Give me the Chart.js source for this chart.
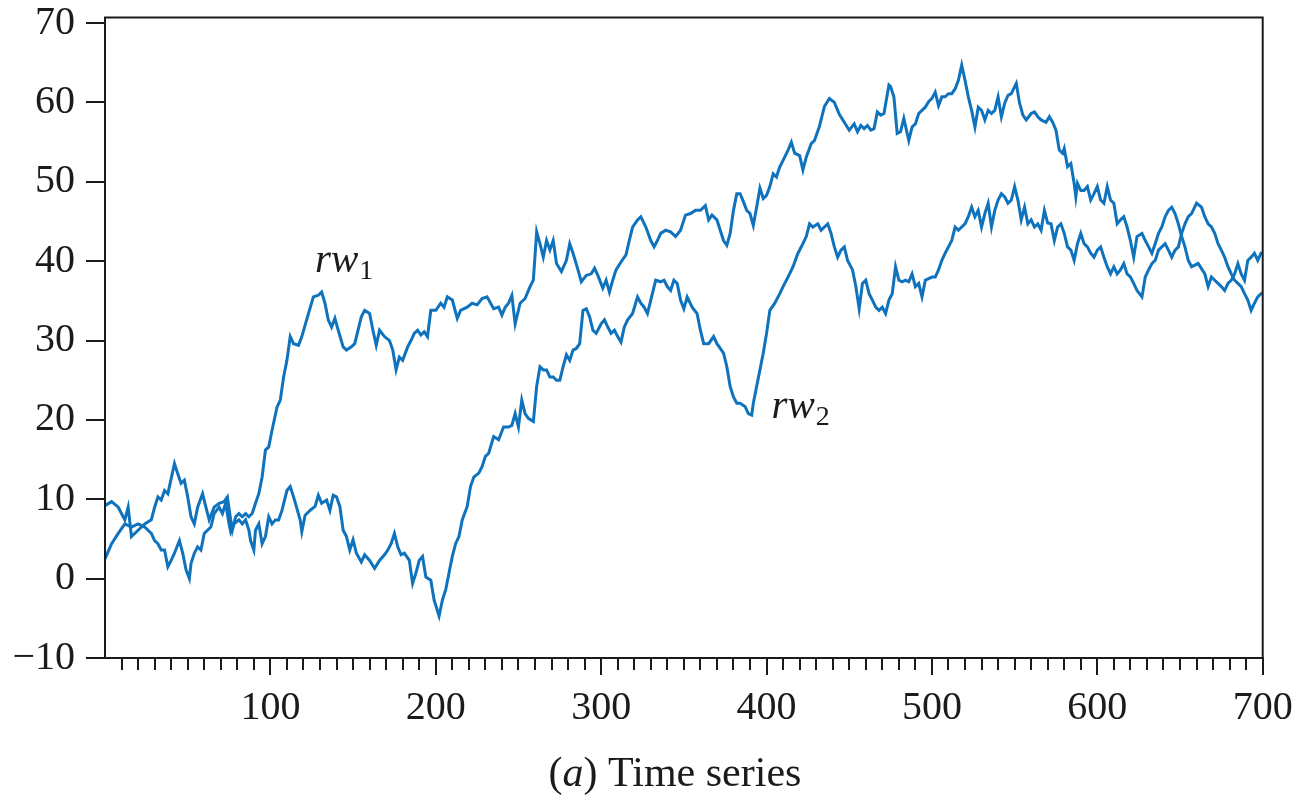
<!DOCTYPE html>
<html>
<head>
<meta charset="utf-8">
<title>Random walks</title>
<script src="https://cdn.jsdelivr.net/npm/chart.js@4.4.1/dist/chart.umd.min.js"></script>
<style>
  html, body { margin: 0; padding: 0; background: #fff; }
  #wrap { width: 1295px; height: 796px; }
</style>
</head>
<body>
<div id="wrap"><canvas id="rw" width="1295" height="796"></canvas></div>
<script>
// rw1 — the walk that climbs fast around t≈100 (time, value)
const rw1T = [
  0, 4, 8, 12, 14, 16, 20, 24, 28, 30, 32, 34, 36, 38, 42, 44, 46, 48, 50, 52,
  54, 56, 59, 61, 63, 66, 69, 72, 74, 76, 77, 79, 81, 83, 85, 87, 89, 91, 93, 95,
  97, 99, 101, 104, 106, 108, 110, 112, 114, 117, 119, 123, 126, 129, 131, 133, 135, 137, 139, 141,
  144, 146, 149, 151, 153, 155, 157, 160, 162, 164, 166, 169, 172, 174, 176, 178, 180, 183, 185, 187,
  189, 191, 193, 195, 197, 200, 203, 205, 207, 210, 213, 215, 219, 222, 225, 228, 231, 235, 238, 240,
  242, 244, 246, 248, 251, 254, 257, 259, 261, 263, 265, 267, 269, 271, 273, 276, 279, 281, 283, 286,
  288, 291, 294, 296, 298, 301, 303, 305, 307, 309, 312, 315, 317, 319, 322, 324, 327, 330, 332, 334,
  336, 339, 342, 345, 348, 351, 354, 357, 360, 363, 365, 367, 370, 372, 374, 376, 378, 380, 382, 384,
  386, 388, 390, 392, 394, 396, 398, 400, 402, 404, 406, 408, 410, 413, 415, 417, 420, 422, 424, 427,
  429, 432, 435, 438, 441, 444, 447, 450, 453, 455, 457, 459, 461, 463, 465, 467, 469, 471, 474, 475,
  477, 479, 481, 483, 486, 488, 490, 492, 494, 496, 498, 500, 502, 504, 506, 508, 510, 512, 514, 516,
  518, 520, 522, 524, 526, 528, 530, 532, 534, 536, 538, 540, 542, 544, 546, 548, 551, 553, 555, 557,
  560, 562, 564, 566, 569, 571, 573, 575, 577, 579, 580, 582, 584, 586, 587, 588, 590, 592, 594, 596,
  598, 600, 602, 604, 606, 608, 610, 612, 614, 616, 618, 620, 622, 624, 627, 629, 631, 633, 635, 637,
  639, 641, 643, 645, 647, 649, 651, 653, 655, 657, 661, 665, 667, 669, 671, 673, 675, 677, 679, 681,
  683, 685, 687, 689, 691, 693, 695, 697, 699, 700
];
const rw1V = [
  9.2, 9.7, 9.0, 7.4, 9.0, 5.3, 6.1, 6.9, 7.4, 9.0, 10.3, 9.9, 11.1, 10.7, 14.5, 13.2, 12.0, 12.4, 10.3, 7.8,
  6.9, 9.0, 10.7, 9.0, 7.4, 9.0, 9.5, 9.7, 10.3, 7.4, 6.1, 7.8, 8.2, 7.8, 8.2, 7.8, 8.2, 9.5, 10.7, 12.8,
  16.2, 16.6, 18.7, 21.6, 22.5, 25.4, 27.5, 30.5, 29.6, 29.4, 30.5, 33.4, 35.5, 35.7, 36.1, 34.7, 32.6, 31.7, 32.8, 31.3,
  29.2, 28.8, 29.2, 29.6, 31.3, 33.0, 33.8, 33.4, 31.3, 29.4, 31.3, 30.5, 30.0, 28.8, 26.3, 27.9, 27.5, 29.2, 30.0, 30.9,
  31.3, 30.7, 31.1, 30.5, 33.8, 33.8, 34.7, 34.2, 35.5, 35.1, 32.8, 33.8, 34.2, 34.7, 34.5, 35.3, 35.5, 34.0, 34.2, 33.2,
  34.2, 34.7, 35.7, 32.1, 34.7, 35.3, 36.8, 37.6, 43.7, 42.2, 40.5, 42.6, 41.4, 42.6, 39.7, 38.7, 40.1, 42.2, 41.0, 38.9,
  37.4, 38.2, 38.4, 39.1, 38.2, 36.6, 37.6, 36.1, 37.6, 38.9, 39.9, 40.8, 42.6, 44.3, 45.2, 45.6, 44.3, 42.6, 41.8, 42.6,
  43.5, 43.9, 43.7, 43.1, 43.9, 45.8, 46.0, 46.4, 46.4, 47.0, 45.2, 45.8, 45.2, 43.9, 42.6, 42.0, 43.5, 46.4, 48.5, 48.5,
  47.5, 46.4, 46.0, 44.5, 46.8, 49.2, 47.9, 48.3, 49.4, 51.0, 50.6, 51.9, 52.7, 54.0, 55.0, 53.6, 53.3, 51.5, 53.1, 54.8,
  55.2, 57.0, 59.5, 60.5, 60.0, 58.5, 57.5, 56.5, 57.3, 56.3, 57.1, 56.7, 57.1, 56.5, 56.7, 58.8, 58.4, 58.6, 62.2, 62.0,
  60.7, 56.1, 56.3, 58.0, 55.2, 56.9, 57.3, 58.6, 59.0, 59.4, 60.1, 60.5, 61.3, 59.6, 60.7, 60.7, 61.1, 61.1, 61.7, 62.8,
  64.7, 62.8, 60.7, 59.0, 56.9, 59.4, 59.0, 57.8, 59.0, 58.6, 59.0, 60.7, 58.2, 59.9, 60.9, 61.1, 62.4, 59.9, 58.4, 57.8,
  58.6, 58.8, 58.2, 57.8, 57.5, 58.2, 57.5, 56.5, 54.0, 53.6, 54.2, 51.9, 52.3, 49.8, 48.1, 49.8, 48.9, 48.9, 49.4, 47.7,
  48.5, 49.4, 47.7, 47.3, 49.4, 47.7, 47.3, 44.7, 45.2, 45.6, 44.3, 42.6, 40.5, 43.1, 43.5, 42.6, 41.8, 41.0, 42.2, 43.5,
  44.3, 45.6, 46.4, 46.8, 46.0, 44.7, 43.1, 41.8, 40.1, 39.3, 39.7, 38.4, 36.8, 38.0, 37.6, 37.2, 36.8, 36.3, 37.2, 37.6,
  38.4, 39.7, 38.4, 37.6, 40.1, 40.5, 41.0, 40.1, 41.0, 40.9
];

// rw2 — the walk that dips below zero near t≈200 (time, value)
const rw2T = [
  0, 4, 8, 12, 16, 20, 24, 28, 30, 32, 34, 36, 38, 40, 42, 45, 47, 49, 51, 52,
  54, 56, 58, 60, 64, 66, 69, 71, 73, 75, 76, 78, 81, 83, 85, 87, 88, 90, 91, 93,
  95, 97, 99, 101, 103, 105, 107, 110, 112, 114, 118, 119, 121, 124, 127, 129, 131, 134, 136, 138,
  140, 142, 144, 146, 148, 150, 152, 155, 157, 160, 163, 166, 169, 171, 173, 175, 177, 179, 181, 184,
  186, 188, 190, 192, 194, 197, 199, 202, 204, 206, 208, 210, 212, 214, 216, 219, 221, 223, 226, 228,
  230, 232, 235, 238, 241, 244, 246, 248, 250, 252, 254, 256, 259, 261, 263, 265, 267, 269, 271, 273,
  275, 277, 279, 281, 283, 285, 287, 289, 291, 293, 295, 297, 300, 302, 304, 306, 308, 310, 312, 314,
  316, 319, 322, 324, 326, 328, 330, 333, 336, 338, 340, 342, 344, 346, 348, 350, 352, 355, 358, 360,
  362, 365, 368, 370, 372, 374, 376, 378, 380, 382, 384, 387, 389, 391, 392, 394, 396, 398, 400, 402,
  405, 408, 410, 413, 416, 419, 422, 424, 426, 428, 431, 433, 435, 437, 439, 441, 443, 445, 447, 449,
  452, 454, 456, 458, 460, 462, 464, 466, 468, 470, 472, 474, 476, 478, 480, 482, 484, 486, 488, 490,
  492, 494, 496, 498, 500, 502, 504, 506, 508, 510, 512, 514, 516, 518, 520, 522, 524, 526, 528, 530,
  532, 534, 536, 538, 540, 542, 544, 546, 548, 550, 552, 554, 556, 558, 560, 562, 564, 566, 568, 570,
  572, 574, 576, 578, 580, 582, 584, 586, 588, 590, 592, 594, 596, 598, 600, 602, 604, 606, 608, 610,
  612, 614, 616, 618, 620, 622, 624, 627, 629, 631, 633, 635, 637, 639, 641, 643, 645, 647, 649, 651,
  653, 655, 657, 660, 663, 665, 667, 669, 671, 673, 675, 677, 679, 681, 683, 685, 687, 689, 691, 693,
  695, 697, 699, 700
];
const rw2V = [
  2.5, 4.4, 5.7, 6.9, 6.5, 6.9, 6.5, 5.7, 4.8, 4.4, 3.6, 3.6, 1.5, 2.3, 3.2, 4.8, 3.2, 1.1, 0.0, 1.9,
  3.2, 4.0, 3.6, 5.7, 6.5, 8.2, 9.0, 8.2, 9.5, 6.9, 5.9, 6.9, 7.4, 6.9, 7.4, 6.1, 4.8, 3.6, 6.1, 6.9,
  4.4, 5.3, 7.8, 6.9, 7.4, 7.4, 8.6, 11.1, 11.6, 10.3, 7.4, 5.9, 8.0, 8.6, 9.1, 10.5, 9.5, 9.9, 8.6, 10.5,
  10.3, 9.1, 6.1, 5.3, 3.6, 4.9, 3.2, 2.1, 3.0, 2.3, 1.3, 2.3, 3.0, 3.6, 4.4, 5.7, 4.0, 3.0, 3.2, 2.3,
  -0.6, 0.7, 2.3, 2.8, 0.2, -0.2, -2.7, -4.7, -2.7, -1.4, 0.7, 2.8, 4.4, 5.3, 7.4, 9.1, 11.6, 12.8, 13.3, 14.1,
  15.4, 15.8, 17.9, 17.5, 19.1, 19.1, 19.3, 20.8, 19.1, 22.5, 20.8, 20.2, 19.8, 24.2, 26.7, 26.3, 26.3, 25.4, 25.4, 25.0,
  25.0, 26.7, 28.2, 27.5, 28.8, 29.0, 29.6, 33.8, 34.0, 33.0, 31.3, 30.9, 32.1, 32.6, 31.7, 30.9, 31.3, 30.5, 29.8, 31.7,
  32.6, 33.4, 35.5, 34.7, 34.2, 33.4, 35.1, 37.6, 37.4, 37.6, 36.8, 36.3, 37.6, 37.2, 35.1, 34.0, 35.5, 34.2, 33.4, 31.3,
  29.6, 29.6, 30.5, 29.6, 29.0, 28.4, 26.7, 24.2, 22.9, 22.1, 22.1, 21.7, 20.8, 20.6, 22.1, 24.2, 26.3, 28.4, 30.9, 33.8,
  34.7, 35.9, 36.8, 38.0, 39.3, 41.0, 42.2, 43.1, 44.7, 44.3, 44.7, 43.9, 44.3, 44.7, 43.5, 41.8, 40.5, 41.4, 41.8, 40.1,
  38.9, 36.8, 34.0, 37.2, 37.6, 35.9, 35.1, 34.2, 33.8, 34.2, 33.4, 35.1, 35.9, 39.3, 37.6, 37.4, 37.6, 37.4, 38.4, 36.8,
  37.2, 35.5, 37.6, 37.8, 38.0, 38.0, 38.9, 40.1, 41.0, 41.8, 42.6, 44.3, 43.9, 44.3, 44.7, 45.6, 46.8, 45.6, 46.4, 44.3,
  46.0, 47.3, 44.3, 46.4, 47.7, 48.5, 48.1, 47.3, 47.7, 49.4, 47.7, 45.2, 46.8, 44.7, 45.2, 44.3, 44.7, 43.9, 46.4, 44.8,
  44.7, 42.6, 44.3, 44.7, 43.5, 41.8, 41.4, 40.1, 42.2, 43.5, 42.2, 41.8, 41.0, 40.5, 41.4, 41.8, 40.5, 39.3, 38.4, 39.3,
  38.4, 38.9, 39.7, 38.4, 38.0, 37.2, 36.3, 35.5, 38.0, 38.9, 39.7, 40.1, 41.4, 41.8, 42.2, 41.4, 40.5, 41.4, 41.8, 43.5,
  44.7, 45.6, 46.0, 47.3, 46.8, 45.6, 44.7, 44.3, 43.5, 42.2, 41.4, 40.5, 39.3, 38.4, 37.6, 37.2, 36.8, 35.9, 35.1, 33.8,
  34.7, 35.5, 35.9, 36.0
];

const yTickValues = [-10, 0, 10, 20, 30, 40, 50, 60, 70];
const seriesLabels = [
  { t: 127, v: 38.6, base: "rw", sub: "1" },
  { t: 403, v: 20.3, base: "rw", sub: "2" },
];
const caption = { pre: "(", ital: "a", post: ") Time series" };

const BLUE  = "#0f72bd";
const INK   = "#1b1b1b";
const SERIF = "'Liberation Serif', 'DejaVu Serif', 'Times New Roman', serif";
const CLEAR = "rgba(0,0,0,0)";

const toPoints = (ts, vs) => vs.map((v, i) => ({ x: ts[i], y: v }));

// frame + series names + caption
const decor = {
  id: "decor",
  afterDraw(chart) {
    const { ctx, chartArea: a, scales } = chart;
    ctx.save();
    ctx.strokeStyle = INK;
    ctx.lineWidth = 2;
    ctx.strokeRect(a.left, a.top, a.right - a.left, a.bottom - a.top);

    ctx.fillStyle = INK;
    ctx.textBaseline = "alphabetic";
    ctx.textAlign = "left";
    seriesLabels.forEach((l) => {
      const px = scales.x.getPixelForValue(l.t);
      const py = scales.y.getPixelForValue(l.v);
      ctx.font = "italic 41px " + SERIF;
      ctx.fillText(l.base, px, py);
      const w = ctx.measureText(l.base).width;
      ctx.font = "28px " + SERIF;
      ctx.fillText(l.sub, px + w + 1, py + 7);
    });

    const size = 42;
    ctx.font = size + "px " + SERIF;
    const w1 = ctx.measureText(caption.pre).width;
    const w3 = ctx.measureText(caption.post).width;
    ctx.font = "italic " + size + "px " + SERIF;
    const w2 = ctx.measureText(caption.ital).width;
    let x = 675 - (w1 + w2 + w3) / 2;
    const by = 786;
    ctx.font = size + "px " + SERIF;
    ctx.fillText(caption.pre, x, by);
    x += w1;
    ctx.font = "italic " + size + "px " + SERIF;
    ctx.fillText(caption.ital, x, by);
    x += w2;
    ctx.font = size + "px " + SERIF;
    ctx.fillText(caption.post, x, by);
    ctx.restore();
  },
};

new Chart(document.getElementById("rw"), {
  type: "line",
  data: {
    datasets: [
      { label: "rw1", data: toPoints(rw1T, rw1V), borderColor: BLUE, borderWidth: 3, pointRadius: 0, tension: 0, fill: false },
      { label: "rw2", data: toPoints(rw2T, rw2V), borderColor: BLUE, borderWidth: 3, pointRadius: 0, tension: 0, fill: false },
    ],
  },
  options: {
    responsive: false,
    animation: false,
    devicePixelRatio: 1,
    layout: { padding: { top: 17.5, right: 32.3, left: 0, bottom: 0 } },
    plugins: { legend: { display: false }, tooltip: { enabled: false } },
    scales: {
      x: {
        type: "linear",
        position: "bottom",
        weight: 1,
        min: 0,
        max: 700,
        afterFit: (s) => { s.height = 138; s.paddingLeft = 0; s.paddingRight = 0; },
        border: { display: true, color: INK, width: 2 },
        grid: {
          drawOnChartArea: false,
          tickLength: 17,
          lineWidth: 2,
          color: (c) => (c.tick && c.tick.value === 0 ? CLEAR : INK),
        },
        ticks: {
          stepSize: 100,
          autoSkip: false,
          maxRotation: 0,
          padding: 9,
          color: INK,
          font: { family: SERIF, size: 40 },
          callback: (v) => (v === 0 ? "" : String(v)),
        },
      },
      xMinor: {
        type: "linear",
        position: "bottom",
        weight: 0,
        min: 0,
        max: 700,
        afterFit: (s) => { s.height = 0; s.paddingLeft = 0; s.paddingRight = 0; },
        border: { display: false },
        grid: {
          drawOnChartArea: false,
          tickLength: 12,
          lineWidth: 2,
          color: (c) => (c.tick && c.tick.value % 100 === 0 ? CLEAR : INK),
        },
        ticks: { stepSize: 10, autoSkip: false, display: false },
      },
      y: {
        type: "linear",
        position: "left",
        min: -10,
        max: 70.7,
        afterFit: (s) => { s.width = 105; s.paddingTop = 0; s.paddingBottom = 0; },
        afterBuildTicks: (s) => { s.ticks = yTickValues.map((v) => ({ value: v })); },
        border: { display: true, color: INK, width: 2 },
        grid: { drawOnChartArea: false, tickLength: 19, lineWidth: 2, color: INK },
        ticks: {
          includeBounds: false,
          stepSize: 10,
          padding: 11,
          color: INK,
          font: { family: SERIF, size: 40, lineHeight: 0.8 },
          callback: (v) => (v < 0 ? "\u2212" + Math.abs(v) : String(v)),
        },
      },
    },
  },
  plugins: [decor],
});
</script>
</body>
</html>
